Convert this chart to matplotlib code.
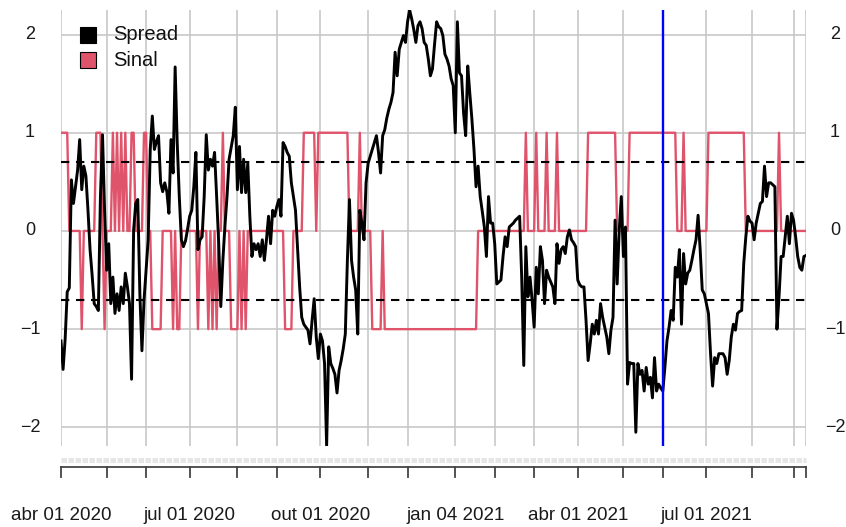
import numpy as np
import matplotlib.pyplot as plt
import matplotlib.transforms as mtransforms
from matplotlib.patches import Rectangle

plt.rcParams['font.family'] = ['Liberation Sans', 'DejaVu Sans']

# Spread padronizado, um valor por pregao
spread = [
    -1.12, -1.41, -1.10, -0.62, -0.58, 0.52, 0.28, 0.45, 0.62, 0.93,
    0.42, 0.66, 0.56, 0.21, -0.19, -0.45, -0.74, -0.77, -0.81, 0.35,
    0.98, 0.21, -0.40, -0.13, -0.74, -0.47, -0.84, -0.64, -0.81, -0.57,
    -0.74, -0.43, -0.57, -0.74, -1.51, 0.01, 0.28, 0.32, -0.64, -1.22,
    -0.71, -0.40, -0.09, 0.83, 1.17, 0.83, 0.91, 0.97, 0.49, 0.40,
    0.49, 0.40, 0.18, 0.93, 0.59, 1.67, 0.90, 0.35, -0.09, -0.16,
    -0.10, 0.02, 0.15, 0.21, 0.45, 0.80, -0.19, -0.09, -0.06, 0.35,
    0.98, 0.62, 0.73, 0.66, 0.80, 0.35, -0.13, -0.77, -0.30, 0.05,
    0.35, 0.73, 0.85, 0.97, 1.26, 0.42, 0.86, 0.39, 0.73, 0.39,
    0.69, 0.15, -0.26, -0.13, -0.19, -0.13, -0.26, -0.09, -0.30, -0.09,
    0.15, -0.13, 0.21, 0.15, 0.25, 0.32, 0.15, 0.90, 0.86, 0.80,
    0.76, 0.49, 0.35, 0.21, -0.19, -0.57, -0.88, -0.95, -0.98, -1.01,
    -1.15, -0.91, -0.69, -1.08, -1.30, -1.05, -1.12, -1.35, -2.19, -1.18,
    -1.35, -1.40, -1.46, -1.65, -1.42, -1.32, -1.20, -1.05, -0.30, 0.32,
    -0.30, -0.47, -0.60, -1.05, 0.21, 0.08, -0.09, 0.49, 0.69, 0.76,
    0.83, 0.90, 0.97, 0.80, 0.59, 0.97, 1.03, 1.15, 1.24, 1.31,
    1.41, 1.82, 1.58, 1.85, 1.92, 1.99, 1.92, 2.13, 2.25, 2.16,
    2.05, 1.92, 2.09, 2.13, 2.06, 1.92, 1.89, 1.75, 1.58, 1.65,
    1.90, 2.13, 2.08, 2.06, 1.99, 1.80, 1.75, 1.68, 1.55, 1.48,
    1.00, 2.13, 1.61, 1.58, 1.20, 0.97, 1.68, 1.40, 1.14, 0.83,
    0.45, 0.66, 0.35, 0.20, 0.04, -0.26, 0.35, 0.08, 0.08, -0.13,
    -0.54, -0.52, -0.50, -0.26, -0.06, -0.16, 0.04, 0.06, 0.08, 0.11,
    0.13, 0.15, -0.47, -1.37, -0.16, -0.67, -0.47, -0.70, -0.98, -0.37,
    -0.64, -0.16, -0.30, -0.74, -0.40, -0.47, -0.52, -0.57, -0.74, -0.13,
    -0.33, -0.19, -0.16, -0.23, -0.06, 0.01, -0.09, -0.12, -0.16, -0.50,
    -0.55, -0.57, -0.57, -0.91, -1.32, -1.15, -0.95, -1.05, -0.91, -1.05,
    -0.74, -0.88, -0.98, -1.08, -1.25, -1.01, -0.88, 0.11, -0.54, 0.01,
    0.35, -0.26, 0.04, -1.56, -1.34, -1.35, -1.35, -2.05, -1.35, -1.46,
    -1.42, -1.63, -1.39, -1.56, -1.49, -1.70, -1.29, -1.63, -1.56, -1.60,
    -1.63, -1.39, -1.12, -0.98, -0.81, -0.91, -0.37, -0.47, -0.19, -0.95,
    -0.23, -0.54, -0.43, -0.40, -0.30, -0.19, -0.09, 0.16, -0.19, -0.60,
    -0.64, -0.74, -0.84, -1.25, -1.58, -1.29, -1.35, -1.25, -1.25, -1.25,
    -1.29, -1.46, -1.32, -1.08, -0.95, -1.01, -0.84, -0.82, -0.81, -0.33,
    -0.06, 0.15, 0.10, 0.08, -0.09, 0.08, 0.18, 0.28, 0.30, 0.66,
    0.35, 0.49, 0.49, 0.47, 0.45, -1.00, -0.67, -0.26, -0.26, -0.06,
    0.15, -0.13, 0.18, 0.11, -0.06, -0.26, -0.37, -0.40, -0.26, -0.25,
]

# Sinal da operacao, guardado como (nivel, numero de pregoes)
sinal_nivel = [1, 0, -1, 0, 1, 0, -1, 0, 1, 0, 1, 0, 1, 0, 1, 0, 1, 0, 1, 0,
               -1, 0, -1, 0, -1, 0, -1, 0, -1, 0, -1, 0, -1, 0, 1, 0, -1, 0, -1, 0,
               -1, 0, -1, 0, 1, 0, 1, 0, 1, 0, -1, 0, -1, 0, 1, 0, 1, 0, 1, 0,
               1, 0, 1, 0, 1, 0, 1, 0, 1, 0, 1, 0]
sinal_dias = [4, 6, 1, 6, 3, 1, 1, 3, 1, 1, 1, 1, 1, 1, 1, 2, 2, 4, 2, 2,
              5, 5, 1, 1, 2, 8, 1, 4, 1, 1, 1, 1, 1, 2, 1, 3, 4, 1, 1, 1,
              1, 18, 4, 5, 6, 1, 15, 5, 1, 5, 5, 1, 45, 23, 1, 4, 1, 4, 1, 4,
              1, 14, 14, 6, 23, 3, 1, 11, 18, 16, 1, 13]

limite = 0.7
dia_marcado = 290

# Pregoes onde comeca cada mes (marcas do eixo x)
meses_pos = [0, 22, 41, 62, 85, 104, 125, 148, 167, 190, 209, 228, 249, 271,
             290, 311, 333, 353, 359]
rotulos_pos = [0, 62, 125, 190, 249, 311]
rotulos_txt = ['abr 01 2020', 'jul 01 2020', 'out 01 2020', 'jan 04 2021',
               'abr 01 2021', 'jul 01 2021']
y_marcas = [-2, -1, 0, 1, 2]

sinal = np.repeat(sinal_nivel, sinal_dias)
dias = np.arange(len(spread))

W, H = 846, 527
fig = plt.figure(figsize=(W / 100, H / 100), dpi=100)
ax = fig.add_axes([61 / W, (H - 446) / H, 745 / W, 436 / H])
ax.set_xlim(0, len(spread) - 1)
ax.set_ylim(min(spread), max(spread))
for s in ax.spines.values():
    s.set_visible(False)
ax.set_xticks([])
ax.set_yticks([])

# Grade
for y in y_marcas:
    ax.axhline(y, color='#C8C8C8', lw=1.2, zorder=0)
for x in meses_pos:
    ax.axvline(x, color='#C8C8C8', lw=1.2, zorder=0)

# Series
ax.plot(dias, sinal, color='#DF536B', lw=1.7, zorder=2)
ax.plot(dias, spread, color='black', lw=2.1, zorder=3)

# Limites de entrada
for h in [limite, -limite]:
    ax.axhline(h, color='black', lw=1.5, dashes=(4.0, 3.2), zorder=4)

ax.axvline(dia_marcado, color='#0000FF', lw=1.7, zorder=5)


def py(p):
    # pixel vertical -> fracao do eixo
    return (446 - p) / 436


tx = mtransforms.blended_transform_factory(ax.transData, ax.transAxes)
ty = mtransforms.blended_transform_factory(ax.transAxes, ax.transData)

# Eixo x desenhado a mao, no estilo do xts
ax.plot([0, len(spread) - 1], [py(460), py(460)], transform=tx, clip_on=False,
        color='#E6E6E6', lw=3.6, dashes=(1.1, 0.3), solid_capstyle='butt')
ax.plot([0, len(spread) - 1], [py(467), py(467)], transform=tx, clip_on=False,
        color='#444444', lw=1.3)
for x in meses_pos:
    ax.plot([x, x], [py(467), py(477)], transform=tx, clip_on=False,
            color='#444444', lw=1.3)
for p, t in zip(rotulos_pos, rotulos_txt):
    ax.text(p, py(515), t, transform=tx, ha='center', va='center',
            fontsize=13.5, color='#1A1A1A')

# Rotulos do eixo y dos dois lados
for y in y_marcas:
    lab = str(y).replace('-', '\u2212')
    ax.text((30 - 61) / 745, y, lab, transform=ty, ha='center', va='center',
            fontsize=13, color='#1A1A1A')
    ax.text((835 - 61) / 745, y, lab, transform=ty, ha='center', va='center',
            fontsize=13, color='#1A1A1A')

# Legenda
cores_leg = ['black', '#DF536B']
nomes_leg = ['Spread', 'Sinal']
for k, (c, n) in enumerate(zip(cores_leg, nomes_leg)):
    yc = 35 + 25 * k
    ax.add_patch(Rectangle(((80 - 61) / 745, py(yc + 8)), 16 / 745, 16 / 436,
                           transform=ax.transAxes, facecolor=c,
                           edgecolor='black', lw=0.8, zorder=6, clip_on=False))
    ax.text((113 - 61) / 745, py(yc), n, transform=ax.transAxes, ha='left',
            va='center', fontsize=14.5, color='#111111', zorder=6)

fig.savefig('out.png', dpi=100)
